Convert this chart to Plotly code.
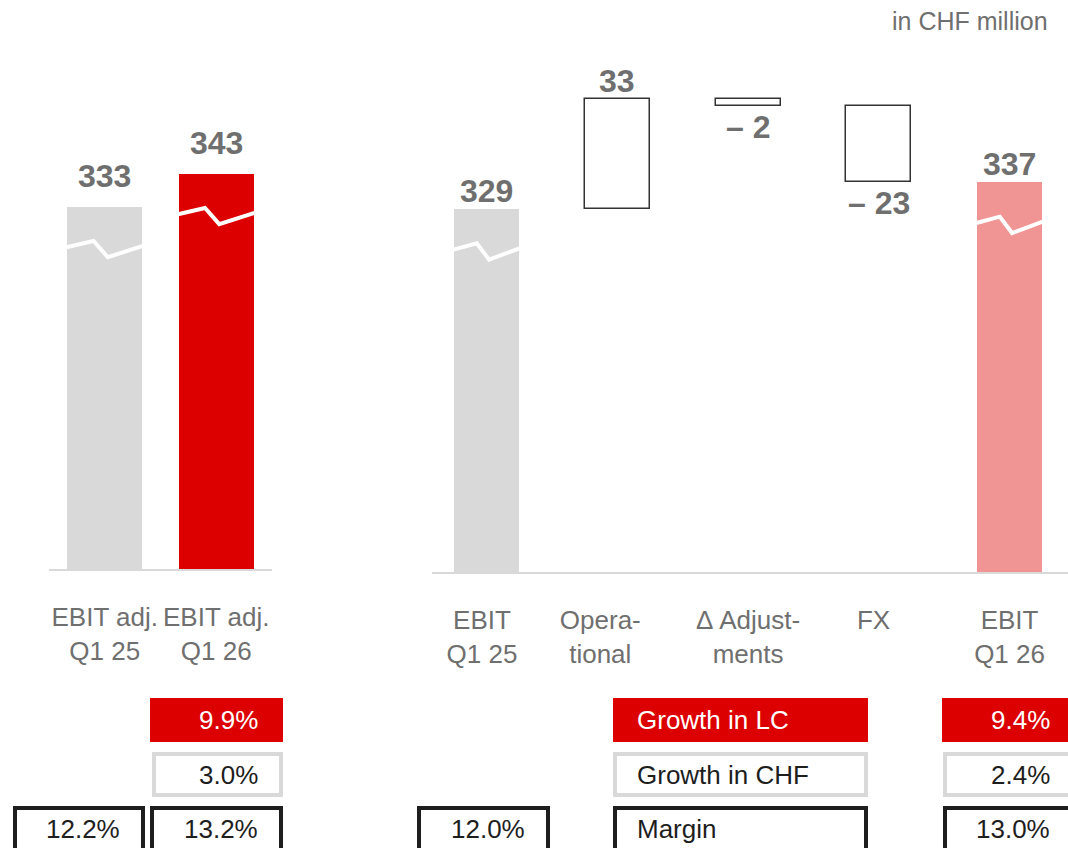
import plotly.graph_objects as go

OFF = 0
FW, FH = 1068, 848

# ---------------- data ----------------
left_categories = ["EBIT adj.<br>Q1 25", "EBIT adj.<br>Q1 26"]
left_values = [333, 343]
left_colors = ["#d9d9d9", "#dc0000"]

bridge_categories = ["EBIT<br>Q1 25", "Opera-<br>tional", "Δ Adjust-<br>ments", "FX", "EBIT<br>Q1 26"]
bridge_values = [329, 33, -2, -23, 337]
bridge_measures = ["total", "relative", "relative", "relative", "total"]
bridge_total_colors = ["#d9d9d9", None, None, None, "#f09494"]

left_growth_lc = [None, "9.9%"]
left_growth_chf = [None, "3.0%"]
left_margin = ["12.2%", "13.2%"]
legend_labels = ["Growth in LC", "Growth in CHF", "Margin"]
bridge_start_margin = "12.0%"
bridge_growth_lc = "9.4%"
bridge_growth_chf = "2.4%"
bridge_margin = "13.0%"
unit_label = "in CHF million"

# ---------------- styles ----------------
FONT = "Liberation Sans, Arial, sans-serif"
GRAY_TXT = "#6f6f6f"
DARK = "#1e1e1e"
RED = "#dc0000"
LGRAY = "#d9d9d9"
VAL_SIZE = 32
TICK_SIZE = 26
TAB_SIZE = 26


def px(x):
    return (x - OFF) / FW


def py(y):
    return 1 - (y - OFF) / FH


# bridge bases from running total
bases, heights, labels = [], [], []
running = 0
for v, m in zip(bridge_values, bridge_measures):
    if m == "total":
        bases.append(0); heights.append(v); running = v
        labels.append(str(v))
    else:
        if v >= 0:
            bases.append(running); heights.append(v)
            labels.append(str(v))
        else:
            bases.append(running + v); heights.append(-v)
            labels.append("– " + str(-v))
        running += v

fills = [c if c else "white" for c in bridge_total_colors]
line_w = [0 if c else 1.5 for c in bridge_total_colors]

fig = go.Figure()
LW = 0.673
RW = 0.497
fig.add_trace(go.Bar(x=[0, 1], y=left_values, width=LW, marker=dict(color=left_colors, line=dict(width=0)),
                     xaxis="x", yaxis="y", hoverinfo="skip"))
fig.add_trace(go.Bar(x=list(range(len(bridge_values))), y=heights, base=bases, width=RW,
                     marker=dict(color=fills, line=dict(color="#333333", width=line_w)),
                     xaxis="x2", yaxis="y2", hoverinfo="skip"))

# axis-break zigzags (relative to bar tops)
zx = [-0.01, 0.35, 0.54, 1.01]
zy = [12.2, 10.3, 15.2, 11.8]


def zig(xc, w, top):
    return [xc - w / 2 + f * w for f in zx], [top - d for d in zy]


for i, v in enumerate(left_values):
    xs, ys = zig(i, LW, v)
    fig.add_trace(go.Scatter(x=xs, y=ys, mode="lines", line=dict(color="white", width=4),
                             xaxis="x", yaxis="y", hoverinfo="skip"))
for i, m in enumerate(bridge_measures):
    if m == "total":
        xs, ys = zig(i, RW, heights[i])
        fig.add_trace(go.Scatter(x=xs, y=ys, mode="lines", line=dict(color="white", width=4),
                                 xaxis="x2", yaxis="y2", hoverinfo="skip"))

annotations = []
# value labels
for i, v in enumerate(left_values):
    annotations.append(dict(x=i, y=v, xref="x", yref="y", text=f"<b>{v}</b>", showarrow=False,
                            yanchor="middle", yshift=31, font=dict(size=VAL_SIZE, color=GRAY_TXT, family=FONT)))
for i, v in enumerate(bridge_values):
    if v >= 0 or bridge_measures[i] == "total":
        annotations.append(dict(x=i, y=bases[i] + heights[i], xref="x2", yref="y2", text=f"<b>{labels[i]}</b>",
                                showarrow=False, yanchor="middle", yshift=18,
                                font=dict(size=VAL_SIZE, color=GRAY_TXT, family=FONT)))
    else:
        annotations.append(dict(x=i, y=bases[i], xref="x2", yref="y2", text=f"<b>{labels[i]}</b>",
                                showarrow=False, yanchor="middle", yshift=-21,
                                font=dict(size=VAL_SIZE, color=GRAY_TXT, family=FONT)))

annotations.append(dict(x=px(1050), y=py(21), xref="paper", yref="paper", text=unit_label,
                        showarrow=False, xanchor="right", yanchor="middle",
                        font=dict(size=25, color=GRAY_TXT, family=FONT)))

shapes = []


def box(x0, x1, y0, y1, kind, text, align="right", text_x=None):
    if kind == "red":
        shapes.append(dict(type="rect", xref="paper", yref="paper", x0=px(x0), x1=px(x1), y0=py(y1), y1=py(y0),
                           fillcolor=RED, line=dict(width=0), layer="above"))
        col = "white"
    else:
        lc = LGRAY if kind == "gray" else DARK
        shapes.append(dict(type="rect", xref="paper", yref="paper", x0=px(x0 + 2), x1=px(x1 - 2),
                           y0=py(y1 - 2), y1=py(y0 + 2), fillcolor="white",
                           line=dict(width=4, color=lc), layer="above"))
        col = DARK
    if text:
        yc = (y0 + min(y1, 852)) / 2
        if align == "right":
            tx = text_x if text_x is not None else x1 - 23
            annotations.append(dict(x=px(tx), y=py(yc), xref="paper", yref="paper", text=text,
                                    showarrow=False, xanchor="right", yanchor="middle",
                                    font=dict(size=TAB_SIZE, color=col, family=FONT)))
        else:
            annotations.append(dict(x=px(x0 + 22), y=py(yc), xref="paper", yref="paper", text=text,
                                    showarrow=False, xanchor="left", yanchor="middle",
                                    font=dict(size=TAB_SIZE, color=col, family=FONT)))


ROW1 = (698, 742)
ROW2 = (752, 797)
ROW3 = (806, 852)
BOTTOM = 870
left_cols = [(13, 145), (150, 283)]
for (x0, x1), g1, g2, m in zip(left_cols, left_growth_lc, left_growth_chf, left_margin):
    if g1:
        box(x0, x1, *ROW1, "red", g1)
    if g2:
        box(x0 + 2, x1, *ROW2, "gray", g2)
    box(x0, x1, ROW3[0], BOTTOM, "dark", m)

box(417, 550, ROW3[0], BOTTOM, "dark", bridge_start_margin)
box(613, 868, *ROW1, "red", legend_labels[0], align="left")
box(613, 868, *ROW2, "gray", legend_labels[1], align="left")
box(613, 868, ROW3[0], BOTTOM, "dark", legend_labels[2], align="left")

box(942, 1090, *ROW1, "red", bridge_growth_lc, text_x=1052)
box(943, 1090, *ROW2, "gray", bridge_growth_chf, text_x=1052)
box(943, 1090, ROW3[0], BOTTOM, "dark", bridge_margin, text_x=1052)

axis_common = dict(showgrid=False, zeroline=False, ticks="", showline=True, linecolor=LGRAY, linewidth=2,
                   tickfont=dict(size=TICK_SIZE, color=GRAY_TXT, family=FONT), ticklabelstandoff=24,
                   tickangle=0, fixedrange=True)

# label anchor positions (slight offsets as in the original slide layout)
bridge_tick_pos = [0 - 0.035, 1 - 0.13, 2, 3 - 0.04, 4]

fig.update_layout(
    width=FW, height=FH, margin=dict(l=0, r=0, t=0, b=0),
    paper_bgcolor="white", plot_bgcolor="white", showlegend=False, bargap=0,
    xaxis=dict(domain=[px(49), px(272)], range=[-0.5, 1.5], tickvals=[0, 1], ticktext=left_categories,
               anchor="y", **axis_common),
    yaxis=dict(domain=[py(569), 1], range=[223.3, 223.3 + (569 - OFF) / 3.3], visible=False, fixedrange=True),
    xaxis2=dict(domain=[px(432), 1], range=[-0.417, 4.447], tickvals=bridge_tick_pos,
                ticktext=bridge_categories, anchor="y2", **axis_common),
    yaxis2=dict(domain=[py(572), 1], range=[220, 220 + (572 - OFF) / 3.33], visible=False, fixedrange=True),
    annotations=annotations, shapes=shapes,
    font=dict(family=FONT),
)

fig.write_html(
    "out.html",
    config={"displayModeBar": False},
    post_script=(
        "document.body.style.margin='0';"
        "document.body.style.overflow='hidden';"
        "document.documentElement.style.overflow='hidden';"
    ),
)
